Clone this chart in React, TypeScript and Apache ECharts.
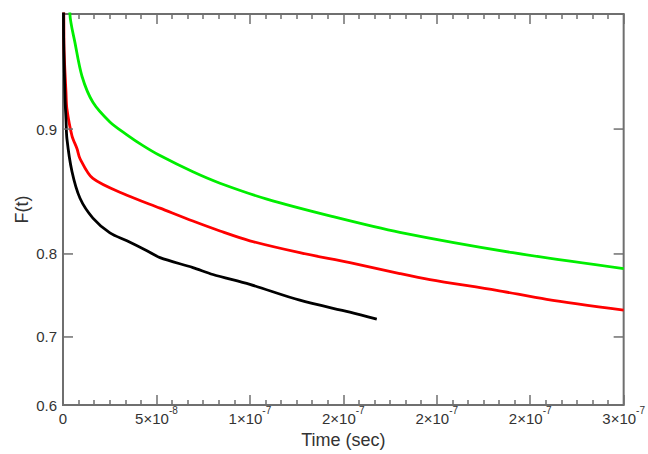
import React, { useEffect, useRef } from 'react';
import * as echarts from 'echarts';

// ---- data (time in ns, F(t) values) ----
const greenTime = [0, 3.7, 6.4, 10.2, 16.0, 25.1, 34.2, 42.8, 51.9, 69.5, 84.0, 109.1, 144.4, 180.2, 240.7, 300];
const greenF = [0.99, 0.950, 0.9404, 0.9268, 0.9146, 0.9041, 0.8966, 0.8899, 0.8834, 0.8721, 0.8636, 0.8510, 0.8360, 0.8215, 0.8013, 0.7844];

const redTime = [0, 0.5, 1.6, 2.1, 4.8, 7.5, 9.1, 16.0, 34.2, 51.9, 69.5, 84.0, 100.0, 126.7, 153.5, 180.2, 196.3, 232.1, 258.8, 300];
const redF = [0.99, 0.940, 0.9195, 0.9111, 0.8960, 0.8879, 0.8814, 0.8672, 0.8541, 0.8434, 0.8320, 0.8228, 0.8133, 0.8013, 0.7908, 0.7789, 0.7721, 0.7595, 0.7487, 0.7352];

const blackTime = [0, 0.3, 1.1, 1.6, 2.1, 4.8, 9.1, 16.0, 25.1, 34.2, 44.9, 51.9, 69.5, 80.2, 100.0, 126.7, 153.5, 167.9];
const blackF = [0.99, 0.945, 0.9162, 0.9057, 0.8942, 0.8723, 0.8517, 0.8347, 0.8210, 0.8133, 0.8033, 0.7961, 0.7855, 0.7778, 0.7665, 0.7476, 0.7327, 0.7237];

const yTickValues = [0.6, 0.7, 0.8, 0.9];
const yTickLabels = ['0.6', '0.7', '0.8', '0.9'];
const xTickMantissa = ['0', '5', '1', '2', '2', '2', '3'];
const xTickExponent = ['', '-8', '-7', '-7', '-7', '-7', '-7'];

const X_MIN = 0;
const X_MAX = 300;
const X_STEP = 50;
const Y_MIN_F = 0.6;
const Y_MAX_F = 0.95;

const logit = (f: number) => Math.log(f / (1 - f));

const FONT = '"Liberation Sans", Arial, Helvetica, sans-serif';
const AXIS = '#6f6f6f';
const TXT = '#333333';

function pairs(t: number[], f: number[]) {
  return t.map((v, i) => [v, logit(f[i])]);
}

export default function App() {
  const ref = useRef<HTMLDivElement>(null);
  useEffect(() => {
    if (!ref.current) return;
    const chart = echarts.init(ref.current, undefined, { renderer: 'svg' });
    const xCommon = {
      type: 'value' as const,
      min: X_MIN,
      max: X_MAX,
      interval: X_STEP,
      splitLine: { show: false },
      axisLine: { show: false },
      axisTick: { show: true, inside: true, length: 10, lineStyle: { color: AXIS, width: 1.5 } },
      minorTick: { show: true, splitNumber: 6, length: 5, lineStyle: { color: AXIS, width: 1.5 } },
    };
    const lineCommon = {
      type: 'line' as const,
      showSymbol: false,
      smooth: 0.3,
    };
    chart.setOption({
      animation: false,
      grid: {
        left: 63,
        right: 24,
        top: 14,
        bottom: 45,
        show: true,
        borderColor: AXIS,
        borderWidth: 2,
        backgroundColor: 'transparent',
      },
      xAxis: [
        {
          ...xCommon,
          position: 'bottom',
          name: 'Time (sec)',
          nameLocation: 'middle',
          nameGap: 26,
          nameTextStyle: { fontSize: 18, fontFamily: FONT, color: TXT },
          axisLabel: {
            margin: 6,
            formatter: (v: number) => {
              const i = Math.round((v - X_MIN) / X_STEP);
              if (!xTickExponent[i]) return '{z|' + xTickMantissa[i] + '}';
              return '{m|' + xTickMantissa[i] + '×10}{e|' + xTickExponent[i] + '}';
            },
            rich: {
              z: { fontSize: 15, fontFamily: FONT, color: TXT, lineHeight: 15 },
              m: { fontSize: 15, fontFamily: FONT, color: TXT, lineHeight: 15, verticalAlign: 'bottom' },
              e: { fontSize: 10, fontFamily: FONT, color: TXT, lineHeight: 10, padding: [0, 0, 11, 0], verticalAlign: 'bottom' },
            },
          },
        },
        {
          ...xCommon,
          position: 'top',
          axisLabel: { show: false },
        },
      ],
      yAxis: {
        type: 'value',
        min: logit(Y_MIN_F),
        max: logit(Y_MAX_F),
        axisLine: { show: false },
        axisTick: { show: false },
        axisLabel: { show: false },
        splitLine: { show: false },
        name: 'F(t)',
        nameLocation: 'middle',
        nameGap: 32,
        nameRotate: 90,
        nameTextStyle: { fontSize: 18, fontFamily: FONT, color: TXT },
      },
      series: [
        { ...lineCommon, data: pairs(greenTime, greenF), lineStyle: { color: '#00ee00', width: 2.8 }, z: 3 },
        { ...lineCommon, data: pairs(redTime, redF), lineStyle: { color: '#ff0000', width: 2.8 }, z: 4 },
        { ...lineCommon, data: pairs(blackTime, blackF), lineStyle: { color: '#000000', width: 2.8 }, z: 5 },
        {
          type: 'custom',
          silent: true,
          clip: false,
          z: 10,
          encode: { x: 0, y: 1 },
          data: yTickValues.map((v) => [X_MIN, logit(v)]),
          renderItem: (params: any, api: any) => {
            const i = params.dataIndex;
            const v = yTickValues[i];
            const pL = api.coord([X_MIN, logit(v)]);
            const pR = api.coord([X_MAX, logit(v)]);
            return {
              type: 'group',
              children: [
                { type: 'line', shape: { x1: pL[0], y1: pL[1], x2: pL[0] + 10, y2: pL[1] }, style: { stroke: AXIS, lineWidth: 1.5 } },
                { type: 'line', shape: { x1: pR[0] - 10, y1: pR[1], x2: pR[0], y2: pR[1] }, style: { stroke: AXIS, lineWidth: 1.5 } },
                {
                  type: 'text',
                  x: pL[0] - 6,
                  y: pL[1],
                  style: { text: yTickLabels[i], align: 'right', verticalAlign: 'middle', font: '15px ' + FONT, fill: TXT },
                },
              ],
            };
          },
        },
      ],
    });
    return () => chart.dispose();
  }, []);
  return <div ref={ref} style={{ position: 'absolute', left: 0, top: 0, width: 648, height: 454 }} />;
}
